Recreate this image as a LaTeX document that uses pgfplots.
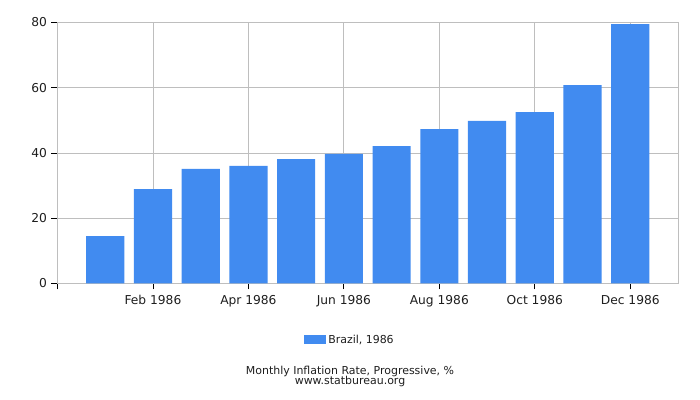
\documentclass[border=0pt]{standalone}
\usepackage{fontspec}
\setmainfont{DejaVu Sans}
\usepackage{pgfplots}
\pgfplotsset{compat=1.18}
\definecolor{barblue}{RGB}{65,139,240}
\definecolor{gridgray}{RGB}{190,190,190}
\definecolor{textdark}{RGB}{30,30,30}

\begin{document}
\begin{tikzpicture}
    % page frame: 700 x 400 bp, axis box placed as in the reference
    \useasboundingbox (-57.5bp,-116.7bp) rectangle (642.5bp,283.3bp);

    \begin{axis}[
        at={(0,0)}, anchor=south west,
        scale only axis,
        width=620.5bp, height=260.8bp,
        ybar, bar width=0.8,
        xmin=-1, xmax=12,
        ymin=0, ymax=80,
        xtick={-1,1,3,5,7,9,11},
        xticklabels={,Feb 1986,Apr 1986,Jun 1986,Aug 1986,Oct 1986,Dec 1986},
        ytick={0,20,40,60,80},
        grid=major,
        grid style={gridgray, line width=0.8bp},
        axis line style={gridgray, line width=0.9bp},
        tick style={black, line width=0.8bp},
        major tick length=6bp,
        tick align=outside,
        xtick pos=bottom, ytick pos=left,
        tick label style={font=\fontsize{12.3}{14}\selectfont, text=textdark},
        xticklabel style={yshift=-2.5bp},
        yticklabel style={xshift=-1bp},
        /pgf/number format/assume math mode=true,
        legend style={at={(0.4714,-0.2174)}, anchor=center, draw=none, fill=none,
            font=\fontsize{11}{13}\selectfont, text=textdark},
        legend image code/.code={\fill[barblue] (0bp,-4.5bp) rectangle (22bp,4.5bp);},
    ]
        % Brazil, monthly inflation, progressive (%)
        \addplot[fill=barblue, draw=none] coordinates {
            (0, 14.5) (1, 28.9) (2, 35.1) (3, 36.0) (4, 38.1) (5, 39.7)
            (6, 42.1) (7, 47.3) (8, 49.8) (9, 52.5) (10, 60.8) (11, 79.5)
        };
        \addlegendentry{Brazil, 1986}
    \end{axis}

    \node[font=\fontsize{11}{13}\selectfont, text=textdark] at (292.5bp,-88bp) {Monthly Inflation Rate, Progressive, \%};
    \node[font=\fontsize{11}{13}\selectfont, text=textdark] at (292.5bp,-98bp) {www.statbureau.org};
\end{tikzpicture}
\end{document}
